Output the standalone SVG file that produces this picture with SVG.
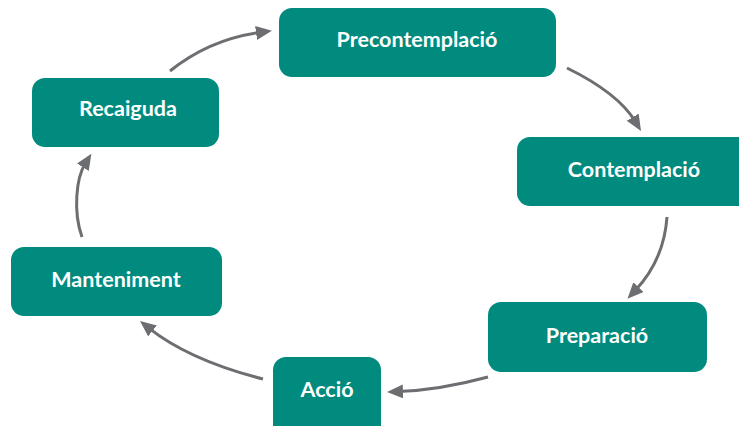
<svg xmlns="http://www.w3.org/2000/svg" width="739" height="426" viewBox="0 0 739 426">
  <style>
    .box { fill: #008b7e; }
    .label { fill: #ffffff; font-family: "Lato", "Open Sans", "Liberation Sans", sans-serif; font-weight: 700; font-size: 21.5px; text-anchor: middle; }
    .link { fill: none; stroke: #6d6e71; stroke-width: 3; }
  </style>
  <defs>
    <marker id="head" markerUnits="userSpaceOnUse" markerWidth="17" markerHeight="15" refX="5" refY="7" orient="auto">
      <path d="M0,0 L16,7 L0,14 z" fill="#6d6e71"/>
    </marker>
  </defs>
  <rect width="739" height="426" fill="#ffffff"/>

  <g id="connectors">
    <path class="link" marker-end="url(#head)" d="M170,71 Q210,39 261,32.3"/>
    <path class="link" marker-end="url(#head)" d="M567,68 Q618,93 635.3,121.5"/>
    <path class="link" marker-end="url(#head)" d="M667,217 Q664,260 635,290.8"/>
    <path class="link" marker-end="url(#head)" d="M488,377 Q440,390 398,391.6"/>
    <path class="link" marker-end="url(#head)" d="M263,379 Q189,360 148.6,327.8"/>
    <path class="link" marker-end="url(#head)" d="M82,237 C73,212 76,178 85.5,163"/>
  </g>

  <g id="precontemplacio">
    <rect class="box" x="279" y="8" width="277" height="69" rx="13"/>
    <text class="label" x="417" y="47">Precontemplació</text>
  </g>
  <g id="contemplacio">
    <rect class="box" x="517" y="137" width="240" height="69" rx="13"/>
    <text class="label" x="634" y="177">Contemplació</text>
  </g>
  <g id="preparacio">
    <rect class="box" x="488" y="302" width="219" height="70" rx="13"/>
    <text class="label" x="597" y="343">Preparació</text>
  </g>
  <g id="accio">
    <rect class="box" x="273" y="357" width="108" height="82" rx="13"/>
    <text class="label" x="327" y="397">Acció</text>
  </g>
  <g id="manteniment">
    <rect class="box" x="11" y="247" width="211" height="69" rx="13"/>
    <text class="label" x="116" y="287">Manteniment</text>
  </g>
  <g id="recaiguda">
    <rect class="box" x="32" y="78" width="187" height="69" rx="13"/>
    <text class="label" x="128" y="116">Recaiguda</text>
  </g>
</svg>
